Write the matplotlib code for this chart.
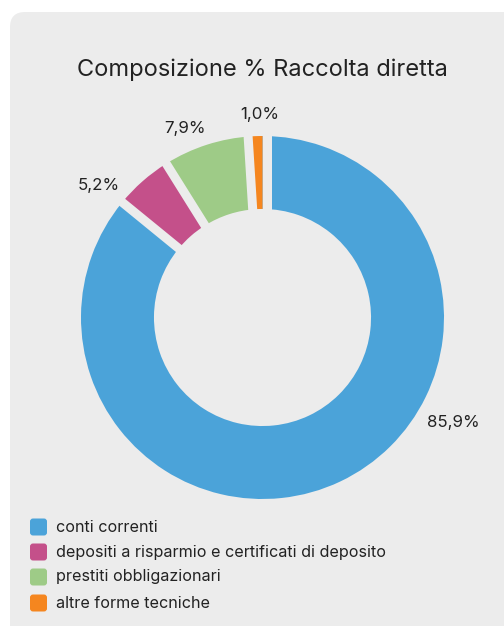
import numpy as np
import matplotlib
matplotlib.use("Agg")
import matplotlib.pyplot as plt
from matplotlib.patches import FancyBboxPatch

categories = ["conti correnti", "depositi a risparmio e certificati di deposito",
              "prestiti obbligazionari", "altre forme tecniche"]
values = [85.9, 5.2, 7.9, 1.0]
labels = ["85,9%", "5,2%", "7,9%", "1,0%"]
colors = ["#4ba3d9", "#c4508a", "#9ecb87", "#f5861f"]
title = "Composizione % Raccolta diretta"

BG = "#ececec"
W, H = 504, 626
plt.rcParams['font.family'] = ['Inter', 'DejaVu Sans']

fig = plt.figure(figsize=(W/100, H/100), dpi=100, facecolor="white")

# card background
card = FancyBboxPatch((10/W, -20/H), (W+20)/W, (H+20-12)/H,
                      boxstyle="round,pad=0,rounding_size=0.03",
                      transform=fig.transFigure, facecolor=BG, edgecolor="none",
                      mutation_aspect=W/H, zorder=-10)
fig.patches.append(card)

fig.text(262.5/W, 1-70/H, title, ha="center", va="center", fontsize=17, color="#222222")

# layout (pixels)
cx, cy, R = 262.5, 626 - 317.5, 181.5
lim = 1.3
half = R*lim
ax = fig.add_axes([(cx-half)/W, (cy-half)/H, 2*half/W, 2*half/H])
ax.patch.set_visible(False)
wedges, _ = ax.pie(values, colors=colors, startangle=90, counterclock=False, radius=1,
                   wedgeprops=dict(width=0.402, edgecolor="none", linewidth=0))
ax.set_xlim(-lim, lim); ax.set_ylim(-lim, lim)
ax.set_aspect("equal"); ax.axis("off")

# gaps between slices (background strips along each slice start boundary)
gap_px = 9.0
gap_shift_px = [4.0, 0.5, 0.0, -3.0]   # shift toward clockwise side
fr = np.array(values) / sum(values)
starts = 90 - np.concatenate([[0], np.cumsum(fr)[:-1]]) * 360
for th, sh in zip(starts, gap_shift_px):
    t = np.deg2rad(th)
    d = np.array([np.cos(t), np.sin(t)])
    p = np.array([np.sin(t), -np.cos(t)]) * sh / R
    pts = np.array([p + 0.3*d, p + 1.1*d])
    ax.plot(pts[:, 0], pts[:, 1], color=BG, linewidth=gap_px*72/100,
            solid_capstyle="butt", zorder=5)

# label placement
mid = 90 - (np.cumsum(fr) - fr/2) * 360
label_shift = [35.9, 9.6, 4.3, -1.1]          # degrees, data-label layout tweak
label_dist = [1.20, 1.16, 1.127, 1.116]
for a, s, d, t in zip(mid, label_shift, label_dist, labels):
    r = np.deg2rad(a + s)
    ax.text(d*np.cos(r), d*np.sin(r), t, ha="center", va="center",
            fontsize=12.2, color="#222222", zorder=6)

rows = [527, 552, 577, 603]
for y, c, name in zip(rows, colors, categories):
    sq = FancyBboxPatch((30/W, 1-(y+8.5)/H), 17/W, 17/H,
                        boxstyle="round,pad=0,rounding_size=0.006",
                        transform=fig.transFigure, facecolor=c, edgecolor="none",
                        mutation_aspect=W/H)
    fig.patches.append(sq)
    fig.text(56/W, 1-y/H, name, ha="left", va="center", fontsize=11.6, color="#222222")

fig.savefig("out.png", dpi=100, facecolor="white")
